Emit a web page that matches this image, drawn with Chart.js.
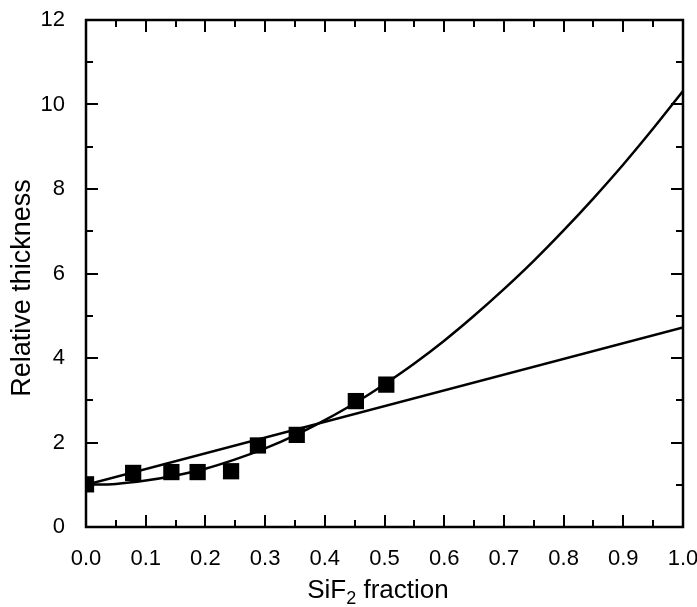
<!DOCTYPE html>
<html>
<head>
<meta charset="utf-8">
<script src="https://cdn.jsdelivr.net/npm/chart.js@4/dist/chart.umd.min.js"></script>
<style>
  html, body { margin: 0; padding: 0; background: #fff; }
  #wrap { width: 697px; height: 607px; }
</style>
</head>
<body>
<div id="wrap"><canvas id="c" width="697" height="607"></canvas></div>
<script>
// Measured points (SiF2 fraction vs relative thickness)
const measX = [0.0, 0.079, 0.143, 0.187, 0.243, 0.288, 0.353, 0.452, 0.503];
const measY = [1.01, 1.28, 1.30, 1.30, 1.32, 1.93, 2.18, 2.98, 3.37];

// Curved fit line
const curveX = [0, 0.05, 0.10, 0.15, 0.20, 0.25, 0.30, 0.35, 0.40, 0.45, 0.50, 0.55, 0.60, 0.65, 0.70, 0.75, 0.80, 0.85, 0.90, 0.95, 1.00];
const curveY = [1.00, 1.02, 1.10, 1.22, 1.38, 1.60, 1.86, 2.17, 2.53, 2.93, 3.38, 3.87, 4.41, 5.00, 5.63, 6.30, 7.02, 7.78, 8.58, 9.43, 10.32];

// Straight line
const lineX = [0, 1];
const lineY = [1.00, 4.72];

const xTitleMain = 'SiF';
const xTitleSub = '2';
const xTitleRest = ' fraction';
const yTitle = 'Relative thickness';

const FONT = '"Liberation Sans", Arial, Helvetica, sans-serif';

function toPts(xs, ys) { return xs.map((x, i) => ({ x: x, y: ys[i] })); }

const framePlugin = {
  id: 'frame',
  afterDraw(chart) {
    const ctx = chart.ctx;
    const a = chart.chartArea;
    const xs = chart.scales.x, ys = chart.scales.y;
    ctx.save();
    ctx.strokeStyle = '#000';
    ctx.lineWidth = 2.5;
    ctx.strokeRect(a.left, a.top, a.right - a.left, a.bottom - a.top);
    ctx.lineWidth = 2;
    const major = 12, minor = 7;
    const xt = xs.ticks.map(t => t.value);
    const drawX = (v, len) => {
      const px = Math.round(xs.getPixelForValue(v));
      ctx.beginPath();
      ctx.moveTo(px, a.bottom); ctx.lineTo(px, a.bottom - len);
      ctx.moveTo(px, a.top); ctx.lineTo(px, a.top + len);
      ctx.stroke();
    };
    xt.forEach((v, i) => {
      drawX(v, major);
      if (i < xt.length - 1) drawX((v + xt[i + 1]) / 2, minor);
    });
    const yt = ys.ticks.map(t => t.value);
    const drawY = (v, len) => {
      const py = Math.round(ys.getPixelForValue(v));
      ctx.beginPath();
      ctx.moveTo(a.left, py); ctx.lineTo(a.left + len, py);
      ctx.moveTo(a.right, py); ctx.lineTo(a.right - len, py);
      ctx.stroke();
    };
    yt.forEach((v, i) => {
      drawY(v, major);
      if (i < yt.length - 1) drawY((v + yt[i + 1]) / 2, minor);
    });

    // axis titles
    ctx.fillStyle = '#000';
    ctx.textBaseline = 'alphabetic';
    const big = '26px ' + FONT, small = '18px ' + FONT;
    ctx.font = big;
    const w1 = ctx.measureText(xTitleMain).width;
    const w3 = ctx.measureText(xTitleRest).width;
    ctx.font = small;
    const w2 = ctx.measureText(xTitleSub).width;
    const total = w1 + w2 + w3;
    let x0 = 378 - total / 2;
    const base = 598;
    ctx.textAlign = 'left';
    ctx.font = big; ctx.fillText(xTitleMain, x0, base);
    ctx.font = small; ctx.fillText(xTitleSub, x0 + w1, base + 6);
    ctx.font = big; ctx.fillText(xTitleRest, x0 + w1 + w2, base);

    ctx.translate(30, 288);
    ctx.rotate(-Math.PI / 2);
    ctx.textAlign = 'center';
    ctx.font = '27px ' + FONT;
    ctx.fillText(yTitle, 0, 0);
    ctx.restore();
  }
};

new Chart(document.getElementById('c'), {
  type: 'scatter',
  data: {
    datasets: [
      {
        label: 'curve',
        data: toPts(curveX, curveY),
        showLine: true,
        borderColor: '#000',
        borderWidth: 2.5,
        pointRadius: 0,
        cubicInterpolationMode: 'monotone',
        clip: 0
      },
      {
        label: 'line',
        data: toPts(lineX, lineY),
        showLine: true,
        borderColor: '#000',
        borderWidth: 2.5,
        pointRadius: 0,
        clip: 0
      },
      {
        label: 'measured',
        data: toPts(measX, measY),
        showLine: false,
        pointStyle: 'rect',
        pointRadius: 11.5,
        backgroundColor: '#000',
        borderColor: '#000',
        borderWidth: 0,
        clip: 0
      }
    ]
  },
  options: {
    responsive: false,
    animation: false,
    devicePixelRatio: 1,
    layout: { padding: { top: 20, right: 14, left: 0, bottom: 0 } },
    plugins: { legend: { display: false }, tooltip: { enabled: false } },
    scales: {
      x: {
        type: 'linear',
        min: 0, max: 1,
        grid: { display: false },
        border: { display: false },
        ticks: {
          stepSize: 0.1,
          padding: 11,
          color: '#000',
          font: { family: FONT, size: 22 },
          callback: v => v.toFixed(1),
          maxRotation: 0
        },
        afterFit: s => { s.height = 80; s.paddingLeft = 0; s.paddingRight = 0; }
      },
      y: {
        type: 'linear',
        min: 0, max: 12,
        grid: { display: false },
        border: { display: false },
        ticks: {
          stepSize: 2,
          padding: 13,
          color: '#000',
          font: { family: FONT, size: 22 },
          callback: v => String(v)
        },
        afterFit: s => { s.width = 86; s.paddingTop = 0; s.paddingBottom = 0; }
      }
    }
  },
  plugins: [framePlugin]
});
</script>
</body>
</html>
